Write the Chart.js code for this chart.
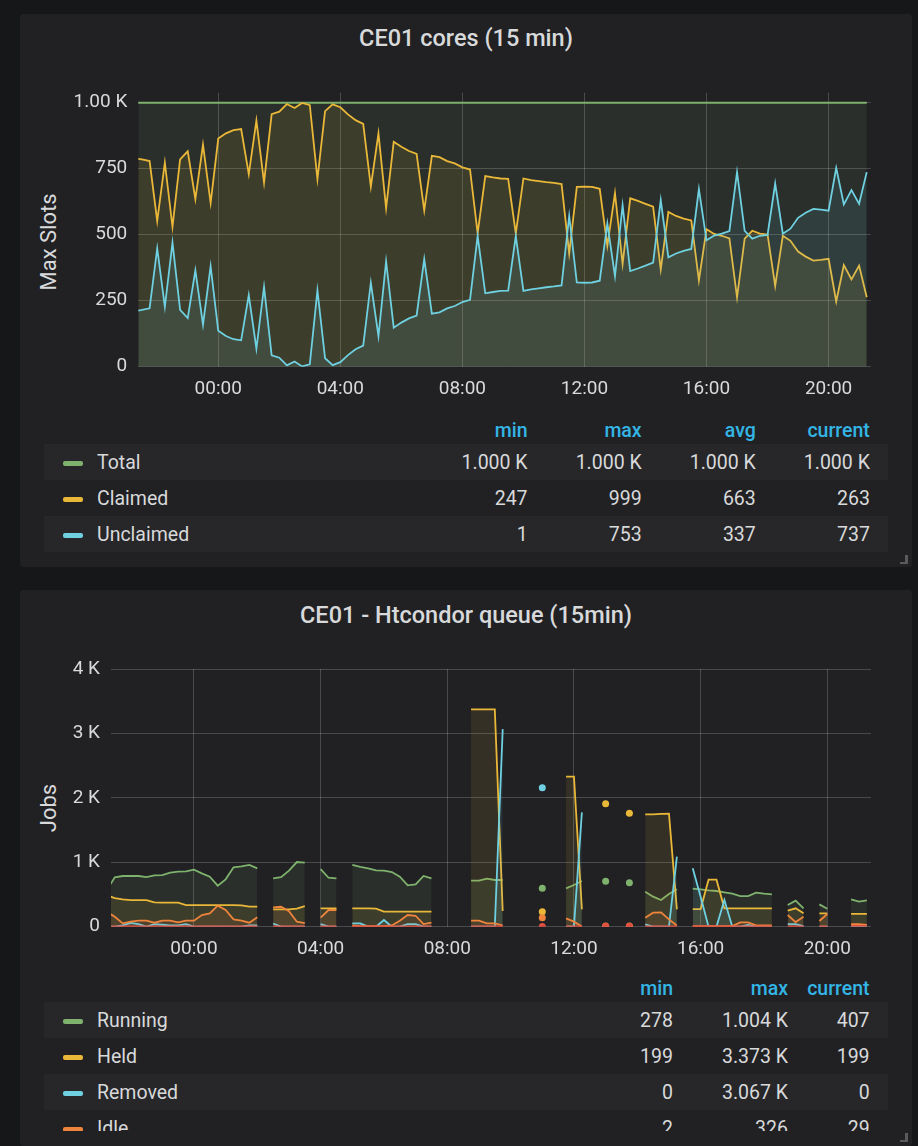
<!DOCTYPE html>
<html>
<head>
<meta charset="utf-8">
<script src="https://cdn.jsdelivr.net/npm/chart.js@4.4.1/dist/chart.umd.min.js"></script>
<style>
  body { margin: 0; width: 918px; height: 1146px; overflow: hidden; background: #161719;
         font-family: Roboto, "Noto Sans", sans-serif; color: #d8d9da; position: relative; }
  .panel { position: absolute; left: 20px; width: 892px; background: #212124; border-radius: 3px; }
  .title { position: absolute; left: 20px; width: 892px; text-align: center; font-size: 23.5px;
           font-weight: 500; line-height: 26px; color: #d8d9da; }
  .axis-title { position: absolute; font-size: 22px; white-space: nowrap; color: #d8d9da;
                transform: translate(-50%, -50%) rotate(-90deg); }
  canvas { position: absolute; left: 20px; }
  .legend { position: absolute; left: 44px; width: 844px; overflow: hidden; font-size: 19.5px; }
  .row { display: flex; align-items: center; height: 36px; }
  .row.odd { background: #27272a; }
  .row .name { display: flex; align-items: center; padding-left: 19px; box-sizing: border-box; }
  .swatch { width: 20px; height: 5px; border-radius: 2px; margin: 3px 14px 0 0; }
  .row .val { text-align: right; }
  .head { color: #33b5e5; font-weight: 500; height: 24px; }
  .corner { position: absolute; width: 5px; height: 7px; border-right: 3px solid #5a5a5c; border-bottom: 2px solid #5a5a5c; }
</style>
</head>
<body>
<div class="panel" style="top:14px;height:553px"></div>
<div class="panel" style="top:590px;height:556px"></div>
<div class="corner" style="left:900px;top:555px"></div>
<div class="corner" style="left:900px;top:1133px"></div>

<div class="title" style="top:25px">CE01 cores (15 min)</div>
<div class="title" style="top:602px">CE01 - Htcondor queue (15min)</div>
<div class="axis-title" style="left:48px;top:242px">Max Slots</div>
<div class="axis-title" style="left:48px;top:808px">Jobs</div>

<canvas id="cores" width="892" height="320" style="top:80px;width:892px;height:320px"></canvas>
<canvas id="queue" width="892" height="310" style="top:650px;width:892px;height:310px"></canvas>

<div class="legend" id="coresHead" style="top:418px"></div>
<div class="legend" id="coresLegend" style="top:444px;height:108px"></div>
<div class="legend" id="queueHead" style="top:976px"></div>
<div class="legend" id="queueLegend" style="top:1002px;height:129px"></div>

<script>
// 15 minute buckets, hours relative to midnight of the displayed day
var T0 = -2.75, STEP = 0.25, N = 97;
var X_MIN = -2.62, X_MAX = 21.38;
var xTicks = [0, 4, 8, 12, 16, 20];
var xLabels = ['00:00', '04:00', '08:00', '12:00', '16:00', '20:00'];

var coresYTicks = [0, 250, 500, 750, 1000];
var coresYLabels = ['0', '250', '500', '750', '1.00 K'];
var queueYTicks = [0, 1000, 2000, 3000, 4000];
var queueYLabels = ['0', '1 K', '2 K', '3 K', '4 K'];

var coresTotal = [
  1000, 1000, 1000, 1000, 1000, 1000, 1000, 1000, 1000, 1000, 1000,
  1000, 1000, 1000, 1000, 1000, 1000, 1000, 1000, 1000, 1000, 1000, 1000,
  1000, 1000, 1000, 1000, 1000, 1000, 1000, 1000, 1000, 1000, 1000, 1000,
  1000, 1000, 1000, 1000, 1000, 1000, 1000, 1000, 1000, 1000, 1000, 1000,
  1000, 1000, 1000, 1000, 1000, 1000, 1000, 1000, 1000, 1000, 1000, 1000,
  1000, 1000, 1000, 1000, 1000, 1000, 1000, 1000, 1000, 1000, 1000, 1000,
  1000, 1000, 1000, 1000, 1000, 1000, 1000, 1000, 1000, 1000, 1000, 1000,
  1000, 1000, 1000, 1000, 1000, 1000, 1000, 1000, 1000, 1000, 1000, 1000,
  1000, 1000
];
var coresClaimed = [
  790, 785, 779, 552, 773, 530, 785, 816, 635, 841, 620,
  864, 884, 896, 900, 729, 932, 698, 957, 966, 995, 980, 999,
  991, 711, 968, 994, 983, 956, 934, 920, 682, 884, 601, 852,
  833, 817, 806, 592, 799, 794, 779, 770, 755, 747, 505, 722,
  717, 713, 712, 505, 713, 707, 703, 699, 696, 692, 429, 681,
  682, 681, 674, 458, 657, 389, 638, 628, 617, 606, 369, 586,
  571, 561, 554, 327, 521, 503, 496, 486, 263, 485, 515, 504,
  501, 306, 496, 477, 436, 417, 402, 405, 409, 247, 385, 331,
  383, 263
];
var coresUnclaimed = [
  210, 215, 221, 448, 227, 470, 215, 184, 365, 159, 380,
  136, 116, 104, 100, 271, 68, 302, 43, 34, 5, 20, 1,
  9, 289, 32, 6, 17, 44, 66, 80, 318, 116, 399, 148,
  167, 183, 194, 408, 201, 206, 221, 230, 245, 253, 495, 278,
  283, 287, 288, 495, 287, 293, 297, 301, 304, 308, 571, 319,
  318, 319, 326, 542, 343, 611, 362, 372, 383, 394, 631, 414,
  429, 439, 446, 673, 479, 497, 504, 514, 737, 515, 485, 496,
  499, 694, 504, 523, 564, 583, 598, 595, 591, 753, 615, 669,
  617, 737
];

var queueRunning = [
  573, 766, 787, 787, 787, 771, 797, 802, 838, 854, 859, 885, 828, 776, 637, 735, 921, 937, 958, 906,
  null, 750, 770, 870, 1004, 995,
  null, 895, 760, 750,
  null, 958, 927, 906, 875, 870, 849, 776, 642, 657, 787, 750,
  null, null, null, null, 714, 714, 745, 725, 725,
  null, null, null, null, 595,
  null, null, 595, 647, 709,
  null, null, 704,
  null, null, 683,
  null, 543, 466, 414, 507, 580,
  null, 590, 580, 564, 554, 533, 512, 476, 476, 528, 512, 502,
  null, 336, 404, 285,
  null, 347, 278,
  null, null, 424, 388, 407
];
var queueHeld = [
  489, 445, 424, 414, 414, 414, 378, 373, 373, 373, 336, 336, 336, 336, 336, 336, 336, 331, 311, 311,
  null, 270, 270, 270, 280, 320,
  null, 285, 285, 285,
  null, 285, 285, 285, 280, 233, 233, 233, 233, 233, 233, 233,
  null, null, null, null, 3373, 3373, 3373, 3373, 243,
  null, null, null, null, 233,
  null, null, 2329, 2329, 269,
  null, null, 1910,
  null, null, 1760,
  null, 1744, 1744, 1750, 1755, 269,
  null, 274, 274, 730, 730, 285, 285, 285, 285, 285, 285, 285,
  null, 248, 285, 207,
  null, 207, 207,
  null, null, 199, 199, 199
];
var queueRemoved = [
  0, 0, 20, 60, 40, 0, 40, 30, 20, 20, 40, 0, 0, 0, 0, 0, 0, 0, 20, 20,
  null, 50, 0, 0, 0, 0,
  null, 40, 0, 0,
  null, 52, 52, 0, 0, 104, 0, 0, 41, 41, 0, 0,
  null, null, null, null, 0, 0, 0, 0, 3067,
  null, null, null, null, 2158,
  null, null, 0, 10, 1775,
  null, null, 0,
  null, null, 0,
  null, 36, 0, 0, 0, 1087,
  null, 906, 466, 0, 0, 414, 0, 0, 26, 0, 0, 0,
  null, 41, 41, 10,
  null, 0, 0,
  null, null, 0, 0, 0
];
var queueIdle = [
  232, 155, 52, 78, 93, 93, 62, 93, 93, 67, 93, 93, 181, 207, 326, 259, 114, 93, 62, 145,
  null, 300, 310, 240, 78, 55,
  null, 140, 259, 259,
  null, 20, 10, 10, 10, 10, 20, 93, 181, 170, 41, 62,
  null, null, null, null, 93, 93, 52, 52, 20,
  null, null, null, null, 140,
  null, null, 129, 78, 2,
  null, null, 10,
  null, null, 10,
  null, 140, 217, 223, 114, 20,
  null, 10, 10, 10, 10, 10, 10, 67, 67, 20, 20, 20,
  null, 181, 72, 155,
  null, 88, 197,
  null, null, 41, 41, 29
];
var queueOther = [
  5, 5, 6, 5, 5, 4, 5, 5, 6, 5, 5, 5, 4, 5, 5, 6, 5, 5, 5, 5,
  null, 5, 5, 4, 5, 5,
  null, 5, 5, 5,
  null, 5, 5, 5, 6, 5, 5, 5, 4, 5, 5, 5,
  null, null, null, null, 5, 5, 5, 5, 5,
  null, null, null, null, 5,
  null, null, 5, 5, 5,
  null, null, 5,
  null, null, 5,
  null, 5, 5, 5, 5, 5,
  null, 5, 5, 5, 5, 5, 5, 5, 5, 5, 5, 5,
  null, 5, 5, 5,
  null, 5, 5,
  null, null, 12, 12, 12
];

var coresNames = ['Total', 'Claimed', 'Unclaimed'];
var coresColors = ['#7eb26d', '#eab839', '#6ed0e0'];
var coresMin = ['1.000 K', '247', '1'];
var coresMax = ['1.000 K', '999', '753'];
var coresAvg = ['1.000 K', '663', '337'];
var coresCurrent = ['1.000 K', '263', '737'];

var queueNames = ['Running', 'Held', 'Removed', 'Idle'];
var queueColors = ['#7eb26d', '#eab839', '#6ed0e0', '#ef843c', '#e24d42'];
var queueMin = ['278', '199', '0', '2'];
var queueMax = ['1.004 K', '3.373 K', '3.067 K', '326'];
var queueCurrent = ['407', '199', '0', '29'];

var TEXT = '#d8d9da';
var GRID = 'rgba(255,255,255,0.19)';
var FONT = 'Roboto, "Noto Sans", sans-serif';

var times = [];
for (var k = 0; k < N; k++) times.push(T0 + k * STEP);

function fade(hex) {
  var n = parseInt(hex.slice(1), 16);
  return 'rgba(' + (n >> 16) + ',' + ((n >> 8) & 255) + ',' + (n & 255) + ',0.1)';
}

function isolated(values, i) {
  if (values[i] == null) return false;
  var prev = i > 0 ? values[i - 1] : null;
  var next = i < values.length - 1 ? values[i + 1] : null;
  return prev == null && next == null;
}

function series(label, values, color, order) {
  return {
    label: label,
    order: order,
    data: values.map(function (v, i) { return { x: times[i], y: v }; }),
    borderColor: color,
    backgroundColor: fade(color),
    fill: 'origin',
    borderWidth: 1.8,
    tension: 0,
    spanGaps: false,
    pointRadius: function (ctx) { return isolated(values, ctx.dataIndex) ? 3.5 : 0; },
    pointHoverRadius: 0,
    pointBackgroundColor: color,
    pointBorderWidth: 0
  };
}

function xScale() {
  return {
    type: 'linear', min: X_MIN, max: X_MAX,
    afterBuildTicks: function (s) { s.ticks = xTicks.map(function (v) { return { value: v }; }); },
    afterFit: function (s) { s.height = 33.3; s.paddingLeft = 0; s.paddingRight = 0; },
    ticks: { color: TEXT, font: { family: FONT, size: 19 }, padding: 11, autoSkip: false, maxRotation: 0,
             callback: function (v, i) { return xLabels[i]; } },
    grid: { color: GRID, lineWidth: 1, drawTicks: false },
    border: { display: false }
  };
}

function yScale(max, ticks, labels, width) {
  return {
    type: 'linear', min: 0, max: max,
    afterBuildTicks: function (s) { s.ticks = ticks.map(function (v) { return { value: v }; }); },
    afterFit: function (s) { s.width = width; s.paddingTop = 0; s.paddingBottom = 0; },
    ticks: { color: TEXT, font: { family: FONT, size: 19 }, padding: 11,
             callback: function (v, i) { return labels[i]; } },
    grid: { color: GRID, lineWidth: 1, drawTicks: false },
    border: { display: false }
  };
}

function chartOptions(yOpts, padding) {
  return {
    responsive: false,
    animation: false,
    layout: { padding: padding },
    plugins: { legend: { display: false }, tooltip: { enabled: false } },
    scales: { x: xScale(), y: yOpts }
  };
}

new Chart(document.getElementById('cores'), {
  type: 'line',
  data: {
    datasets: [
      series('Total', coresTotal, coresColors[0], 3),
      series('Claimed', coresClaimed, coresColors[1], 2),
      series('Unclaimed', coresUnclaimed, coresColors[2], 1)
    ]
  },
  options: chartOptions(yScale(1038, coresYTicks, coresYLabels, 118.3), { top: 12.7, right: 41.3, left: 0, bottom: 0 })
});

new Chart(document.getElementById('queue'), {
  type: 'line',
  data: {
    datasets: [
      series('Running', queueRunning, queueColors[0], 5),
      series('Held', queueHeld, queueColors[1], 4),
      series('Removed', queueRemoved, queueColors[2], 3),
      series('Idle', queueIdle, queueColors[3], 2),
      series('Other', queueOther, queueColors[4], 1)
    ]
  },
  options: chartOptions(yScale(4000, queueYTicks, queueYLabels, 91), { top: 19, right: 41, left: 0, bottom: 0 })
});

// legend tables
function buildLegend(headId, bodyId, heads, widths, names, colors, cols) {
  var nameW = widths[0];
  var h = '<div class="row head"><div class="name" style="width:' + nameW + 'px"></div>';
  heads.forEach(function (t, j) { h += '<div class="val" style="width:' + widths[j + 1] + 'px">' + t + '</div>'; });
  document.getElementById(headId).innerHTML = h + '</div>';
  var b = '';
  names.forEach(function (n, i) {
    b += '<div class="row' + (i % 2 === 0 ? ' odd' : '') + '"><div class="name" style="width:' + nameW + 'px">' +
         '<span class="swatch" style="background:' + colors[i] + '"></span>' + n + '</div>';
    cols.forEach(function (c, j) { b += '<div class="val" style="width:' + widths[j + 1] + 'px">' + c[i] + '</div>'; });
    b += '</div>';
  });
  document.getElementById(bodyId).innerHTML = b;
}

buildLegend('coresHead', 'coresLegend', ['min', 'max', 'avg', 'current'], [369.5, 114.1, 114.1, 114.1, 114.1],
            coresNames, coresColors, [coresMin, coresMax, coresAvg, coresCurrent]);
buildLegend('queueHead', 'queueLegend', ['min', 'max', 'current'], [514, 115, 115, 81.6],
            queueNames, queueColors, [queueMin, queueMax, queueCurrent]);
</script>
</body>
</html>
